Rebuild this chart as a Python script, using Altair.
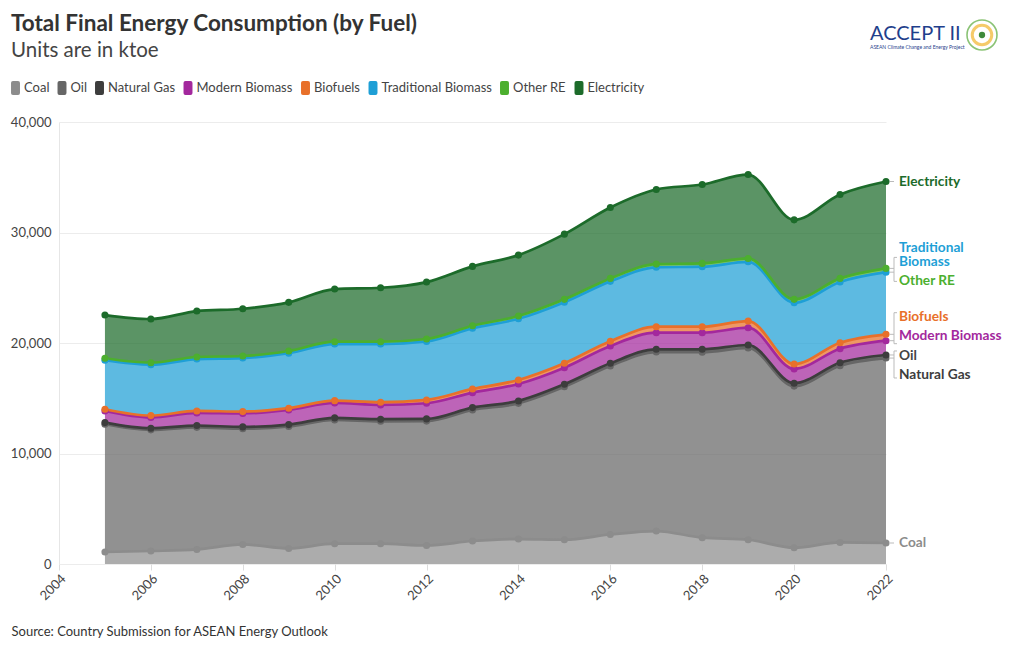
import altair as alt
import pandas as pd

years = list(range(2005, 2023))
fuels = ["Coal", "Oil", "Natural Gas", "Modern Biomass", "Biofuels",
         "Traditional Biomass", "Other RE", "Electricity"]
colors = ["#8c8c8c", "#666666", "#3d3d3d", "#a3289d", "#e8702a",
          "#1e9fd6", "#4caf2e", "#1c6b2a"]

coal = [1085, 1175, 1320, 1770, 1410, 1835, 1835, 1680, 2080, 2260, 2195, 2675, 2980, 2380, 2195, 1475, 1950, 1900]
oil = [11562, 10966, 11046, 10468, 11036, 11207, 11079, 11251, 11863, 12278, 13843, 15250, 16201, 16791, 17354, 14623, 16000, 16736]
natural_gas = [150, 150, 160, 170, 170, 180, 190, 200, 210, 220, 230, 240, 250, 260, 270, 260, 270, 280]
modern_biomass = [1057, 976, 1147, 1220, 1329, 1355, 1293, 1419, 1355, 1537, 1500, 1564, 1500, 1500, 1564, 1292, 1265, 1292]
biofuels = [154, 163, 181, 163, 154, 208, 244, 299, 335, 361, 397, 425, 542, 542, 605, 452, 542, 578]
traditional_biomass = [4429, 4610, 4691, 4844, 4978, 5122, 5266, 5293, 5491, 5544, 5534, 5423, 5377, 5430, 5357, 5547, 5500, 5625]
other_re = [180, 180, 190, 190, 200, 210, 210, 220, 230, 240, 250, 270, 290, 300, 310, 300, 320, 340]
electricity = [3913, 3950, 4157, 4275, 4401, 4763, 4881, 5151, 5368, 5513, 5902, 6417, 6751, 7140, 7591, 7194, 7592, 7863]

series = [coal, oil, natural_gas, modern_biomass, biofuels,
          traditional_biomass, other_re, electricity]

title_text = "Total Final Energy Consumption (by Fuel)"
subtitle_text = "Units are in ktoe"
source_text = "Source: Country Submission for ASEAN Energy Outlook"

# end labels: (fuel, text line, pixel dy)
end_labels = [("Coal", "Coal", 0), ("Oil", "Oil", -2), ("Natural Gas", "Natural Gas", 20),
              ("Modern Biomass", "Modern Biomass", -5), ("Biofuels", "Biofuels", -17),
              ("Traditional Biomass", "Traditional", -24),
              ("Traditional Biomass", "Biomass", -10),
              ("Other RE", "Other RE", 13), ("Electricity", "Electricity", 0)]
label_color = {"Oil": "#444444", "Natural Gas": "#3d3d3d"}

rows = []
for i, (f, vals) in enumerate(zip(fuels, series)):
    for yr, v in zip(years, vals):
        rows.append({"year": yr, "fuel": f, "value": v, "idx": i})
df = pd.DataFrame(rows)

FONT = "Lato"
W, H = 827, 442

base = alt.Chart(df).transform_stack(
    stack="value", groupby=["year"], as_=["y0", "y1"],
    sort=[alt.SortField("idx", order="ascending")]
)

xenc = alt.X("year:Q",
             scale=alt.Scale(domain=[2004, 2022], nice=False),
             axis=alt.Axis(values=list(range(2004, 2023, 2)), format="d",
                           labelAngle=-45, labelFontSize=13, labelColor="#444",
                           labelFont=FONT, grid=False, domain=False,
                           ticks=True, tickColor="#dddddd", tickSize=6,
                           labelPadding=2,
                           title=source_text,
                           titleAnchor="start", titleAlign="left",
                           titleX=-48, titleY=67, titleBaseline="middle",
                           titleFontSize=13, titleFontWeight="normal",
                           titleColor="#333", titleFont=FONT))
yenc = alt.Y("y1:Q", scale=alt.Scale(domain=[0, 40000], nice=False),
             axis=alt.Axis(values=[0, 10000, 20000, 30000, 40000],
                           labelExpr="format(datum.value, ',.0f')",
                           labelFontSize=13, labelColor="#444", labelFont=FONT,
                           ticks=False, domain=True, domainColor="#e6e6e6",
                           gridColor="#ececec", labelPadding=8, title=None))
color = alt.Color("fuel:N", scale=alt.Scale(domain=fuels, range=colors),
                  title=None)

area = base.mark_area(interpolate="monotone", fillOpacity=0.72, strokeWidth=0).encode(
    x=xenc, y=yenc, y2="y0:Q", color=color,
)
lines = base.mark_line(interpolate="monotone", strokeWidth=2.7).encode(
    x=xenc, y=yenc, color=color,
)
points = base.mark_point(filled=True, size=50, opacity=1).encode(
    x=xenc, y=yenc, color=color,
)

layers = [area, lines, points]

end = base.transform_filter(alt.datum.year == 2022)

# connectors
for f in fuels:
    layers.append(end.transform_filter(alt.datum.fuel == f).mark_rule(
        color="#bbbbbb", strokeWidth=1, xOffset=4, x2Offset=8).encode(
        x=xenc, x2="year:Q", y=yenc))

# brackets
brackets = [("Other RE", -11, 13), ("Modern Biomass", -28, 3), ("Natural Gas", -4, 23)]
for f, a, b in brackets:
    sel = end.transform_filter(alt.datum.fuel == f)
    layers.append(sel.mark_rule(color="#bbbbbb", strokeWidth=1, xOffset=8,
                                x2Offset=8, yOffset=a, y2Offset=b).encode(
        x=xenc, x2="year:Q", y=yenc, y2="y1:Q"))
    for off in (a, b):
        layers.append(sel.mark_rule(color="#bbbbbb", strokeWidth=1, xOffset=8,
                                    x2Offset=11, yOffset=off).encode(
            x=xenc, x2="year:Q", y=yenc))

# end labels
color_of = dict(zip(fuels, colors))
for f, txt, dy in end_labels:
    layers.append(end.transform_filter(alt.datum.fuel == f).mark_text(
        align="left", baseline="middle", dx=13, dy=dy,
        font=FONT, fontSize=13.7, fontWeight="bold",
        color=label_color.get(f, color_of[f])).encode(
        x=xenc, y=yenc, text=alt.value(txt)))

# title, subtitle and logo (annotation text)
ann_df = pd.DataFrame({"title": [title_text], "subtitle": [subtitle_text],
                       "logo": ["ACCEPT II"],
                       "logo_sub": ["ASEAN Climate Change and Energy Project"]})
ann = alt.Chart(ann_df)
layers.append(ann.mark_text(font=FONT, fontSize=22.5, fontWeight="bold", color="#333",
                            align="left", baseline="alphabetic").encode(
    x=alt.value(11 - 59), y=alt.value(31 - 122), text="title:N"))
layers.append(ann.mark_text(font=FONT, fontSize=20.5, color="#444",
                            align="left", baseline="alphabetic").encode(
    x=alt.value(11 - 59), y=alt.value(57 - 122), text="subtitle:N"))
layers.append(ann.mark_text(font=FONT, fontSize=20, color="#1f3f8c", align="left",
                            baseline="middle").encode(
    x=alt.value(870 - 59), y=alt.value(34 - 122), text="logo:N"))
layers.append(ann.mark_text(font=FONT, fontSize=5, color="#1f3f8c", align="left",
                            baseline="middle").encode(
    x=alt.value(870 - 59), y=alt.value(47 - 122), text="logo_sub:N"))
layers.append(ann.mark_point(shape="circle", size=900, filled=False,
                             stroke="#5aaa3c", strokeWidth=1.6).encode(
    x=alt.value(982 - 59), y=alt.value(35 - 122)))
layers.append(ann.mark_point(shape="circle", size=380, filled=False,
                             stroke="#f2b52c", strokeWidth=3).encode(
    x=alt.value(982 - 59), y=alt.value(35 - 122)))
layers.append(ann.mark_point(shape="circle", size=40, filled=True,
                             color="#3f8a3a", opacity=1).encode(
    x=alt.value(982 - 59), y=alt.value(35 - 122)))

chart = alt.layer(*layers).properties(
    width=W, height=H,
    autosize=alt.AutoSizeParams(type="none"),
    padding={"left": 51, "top": 114, "right": 126, "bottom": 78},
).configure_view(stroke=None).configure_legend(
    orient="none", legendX=-50.5, legendY=-41, direction="horizontal",
    labelFontSize=13, labelColor="#444", labelFont=FONT,
    symbolType="M -0.64 -0.72 Q -0.64 -1 -0.36 -1 L 0.36 -1 Q 0.64 -1 0.64 -0.72 L 0.64 0.72 Q 0.64 1 0.36 1 L -0.36 1 Q -0.64 1 -0.64 0.72 Z",
    symbolSize=196, symbolOpacity=1, symbolStrokeWidth=0,
    labelOffset=1.5, columnPadding=5.5,
)

chart.save("out.html", embed_options={"renderer": "svg", "actions": False})
